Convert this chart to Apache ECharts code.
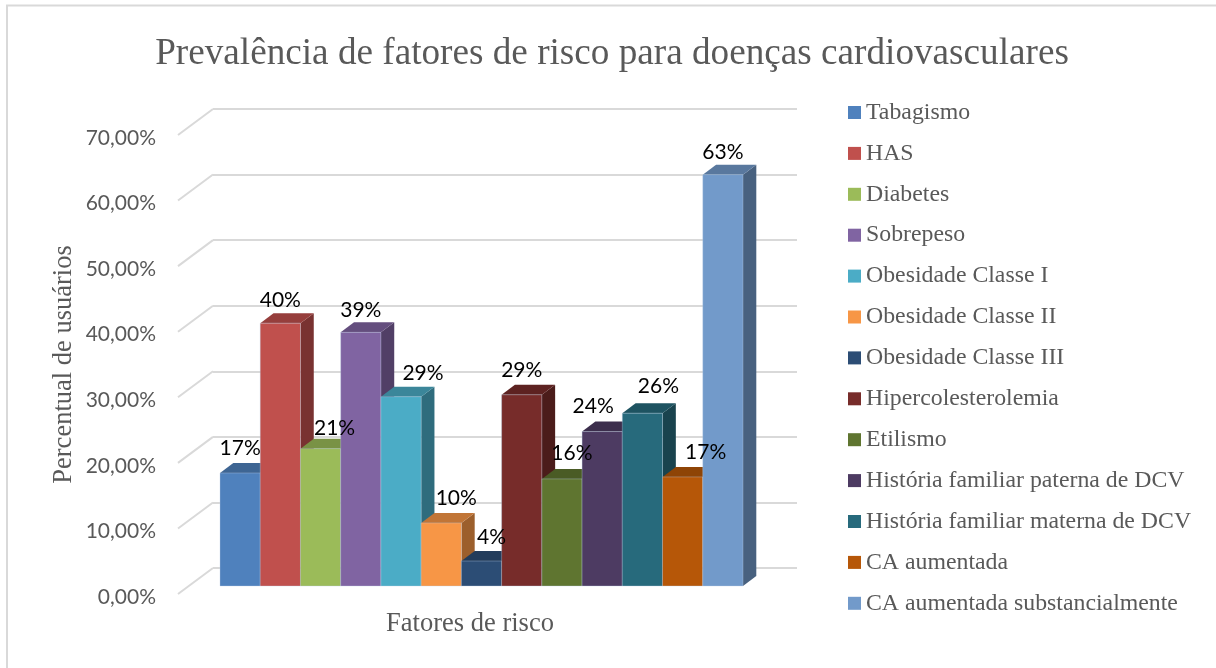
<!DOCTYPE html>
<html>
<head>
<meta charset="utf-8">
<title>Fatores de risco</title>
<script src="https://cdn.jsdelivr.net/npm/echarts@6/dist/echarts.min.js"></script>
<style>
  html, body { margin: 0; padding: 0; background: #fff; }
  #chart { width: 1216px; height: 668px; }
</style>
</head>
<body>
<div id="chart"></div>
<script>
const categories = ['Tabagismo', 'HAS', 'Diabetes', 'Sobrepeso', 'Obesidade Classe I', 'Obesidade Classe II',
  'Obesidade Classe III', 'Hipercolesterolemia', 'Etilismo', 'História familiar paterna de DCV',
  'História familiar materna de DCV', 'CA aumentada', 'CA aumentada substancialmente'];
const values = [17.2, 40.0, 20.9, 38.6, 28.8, 9.6, 3.8, 29.1, 16.3, 23.5, 26.3, 16.6, 62.6];
const colors = ['#4F81BD', '#C0504D', '#9BBB59', '#8064A2', '#4BACC6', '#F79646', '#2C4D75',
  '#772C2A', '#5F7530', '#4D3B62', '#276A7C', '#B65708', '#729ACA'];
const yTicks = [0, 10, 20, 30, 40, 50, 60, 70];

// label offset from the bar centre, the original has them moved by hand
const labelShift = [[0, -1], [0, 1], [14, 4], [0, 2], [22, 0], [15, -1], [10, 0], [0, -1], [10, -2], [-9, -1], [16, -3], [23, -1], [0, 2]];

const serif = '"Liberation Serif"';
const gray = '#595959';
const wallDepth = [35, -26];
const barDepth = [13.3, -10];

function shade(hex, k) {
  const c = echarts.color.parse(hex);
  return 'rgb(' + Math.round(c[0] * k) + ',' + Math.round(c[1] * k) + ',' + Math.round(c[2] * k) + ')';
}

function renderBar(params, api) {
  const i = api.value(0);
  const top = api.coord([i, api.value(1)]);
  const base = api.coord([i, 0]);
  const w = api.size([1, 0])[0];
  const x0 = top[0] - w / 2;
  const x1 = top[0] + w / 2;
  const dx = barDepth[0];
  const dy = barDepth[1];
  const color = colors[i];
  const shift = labelShift[i];
  return {
    type: 'group',
    children: [
      { type: 'polygon', shape: { points: [[x1, top[1]], [x1 + dx, top[1] + dy], [x1 + dx, base[1] + dy], [x1, base[1]]] },
        style: { fill: shade(color, 0.63) } },
      { type: 'polygon', shape: { points: [[x0, top[1]], [x0 + dx, top[1] + dy], [x1 + dx, top[1] + dy], [x1, top[1]]] },
        style: { fill: shade(color, 0.78) } },
      { type: 'rect', shape: { x: x0, y: top[1], width: w, height: base[1] - top[1] },
        style: { fill: color, stroke: 'rgba(190,208,232,0.35)', lineWidth: 1 } },
      { type: 'text', z2: 100,
        style: { x: top[0] + shift[0], y: top[1] + dy - 14 + shift[1], text: Math.round(api.value(1)) + '%',
          fill: '#000', font: '21px Lato', align: 'center', verticalAlign: 'middle' } }
    ]
  };
}

function renderWallEdge(params, api) {
  const p = api.coord([0, api.value(0)]);
  const x = p[0] - api.size([1, 0])[0] / 2;
  return {
    type: 'line',
    shape: { x1: x, y1: p[1], x2: x + wallDepth[0], y2: p[1] + wallDepth[1] },
    style: { stroke: '#d9d9d9', lineWidth: 2 }
  };
}

const chart = echarts.init(document.getElementById('chart'));

const barSeries = categories.map((name, i) => ({
  name: name,
  type: 'custom',
  xAxisIndex: 2,
  yAxisIndex: 2,
  itemStyle: { color: colors[i] },
  renderItem: renderBar,
  encode: { x: 0, y: 1 },
  data: [[i, values[i]]]
}));

chart.setOption({
  animation: false,
  graphic: [{
    type: 'polyline', silent: true,
    shape: { points: [[7, 668], [7, 5.5], [1216, 5.5]] },
    style: { fill: 'none', stroke: '#d9d9d9', lineWidth: 2 }
  }],
  title: {
    text: 'Prevalência de fatores de risco para doenças cardiovasculares',
    left: 607, top: 31, textAlign: 'center',
    textStyle: { fontFamily: serif, fontSize: 37.2, fontWeight: 'normal', color: gray }
  },
  legend: {
    data: categories,
    orient: 'vertical',
    left: 843, top: 95.5,
    icon: 'rect',
    itemWidth: 13, itemHeight: 13, itemGap: 16.9,
    selectedMode: false,
    textStyle: { fontFamily: serif, fontSize: 23.8, color: gray, lineHeight: 24, padding: [0, 0, 0, 0] }
  },
  grid: [
    // front edge of the walls, carries the tick labels
    { left: 178, width: 584, top: 135, height: 459 },
    // back wall
    { left: 213, width: 584, top: 109, height: 459 },
    // front plane of the bars
    { left: 220, width: 523, top: 126, height: 460 }
  ],
  xAxis: [
    { gridIndex: 0, type: 'category', data: [''], axisLine: { show: false }, axisTick: { show: false }, axisLabel: { show: false },
      name: 'Fatores de risco', nameLocation: 'middle', nameGap: 17,
      nameTextStyle: { fontFamily: serif, fontSize: 26.5, color: gray } },
    { gridIndex: 1, type: 'category', data: [''], axisLine: { show: false }, axisTick: { show: false }, axisLabel: { show: false } },
    { gridIndex: 2, type: 'category', data: categories, axisLine: { show: false }, axisTick: { show: false }, axisLabel: { show: false } }
  ],
  yAxis: [
    { gridIndex: 0, type: 'value', min: 0, max: 70, interval: 10,
      axisLine: { show: false }, axisTick: { show: false }, splitLine: { show: false },
      axisLabel: { margin: 22,
        formatter: v => '{t|' + v.toFixed(2).replace('.', ',') + '%}',
        rich: { t: { fontFamily: 'Lato', fontSize: 21, color: gray, padding: [6, 0, 0, 0] } } },
      name: 'Percentual de usuários', nameLocation: 'middle', nameGap: 100,
      nameTextStyle: { fontFamily: serif, fontSize: 26.5, color: gray } },
    { gridIndex: 1, type: 'value', min: 0, max: 70, interval: 10,
      axisLine: { show: false }, axisTick: { show: false }, axisLabel: { show: false },
      splitLine: { lineStyle: { color: '#d9d9d9', width: 2 } } },
    { gridIndex: 2, type: 'value', min: 0, max: 70, interval: 10,
      axisLine: { show: false }, axisTick: { show: false }, axisLabel: { show: false }, splitLine: { show: false } }
  ],
  series: [
    { type: 'custom', xAxisIndex: 0, yAxisIndex: 0, renderItem: renderWallEdge, encode: { y: 0 }, data: yTicks.map(v => [v]) }
  ].concat(barSeries)
});
</script>
</body>
</html>
